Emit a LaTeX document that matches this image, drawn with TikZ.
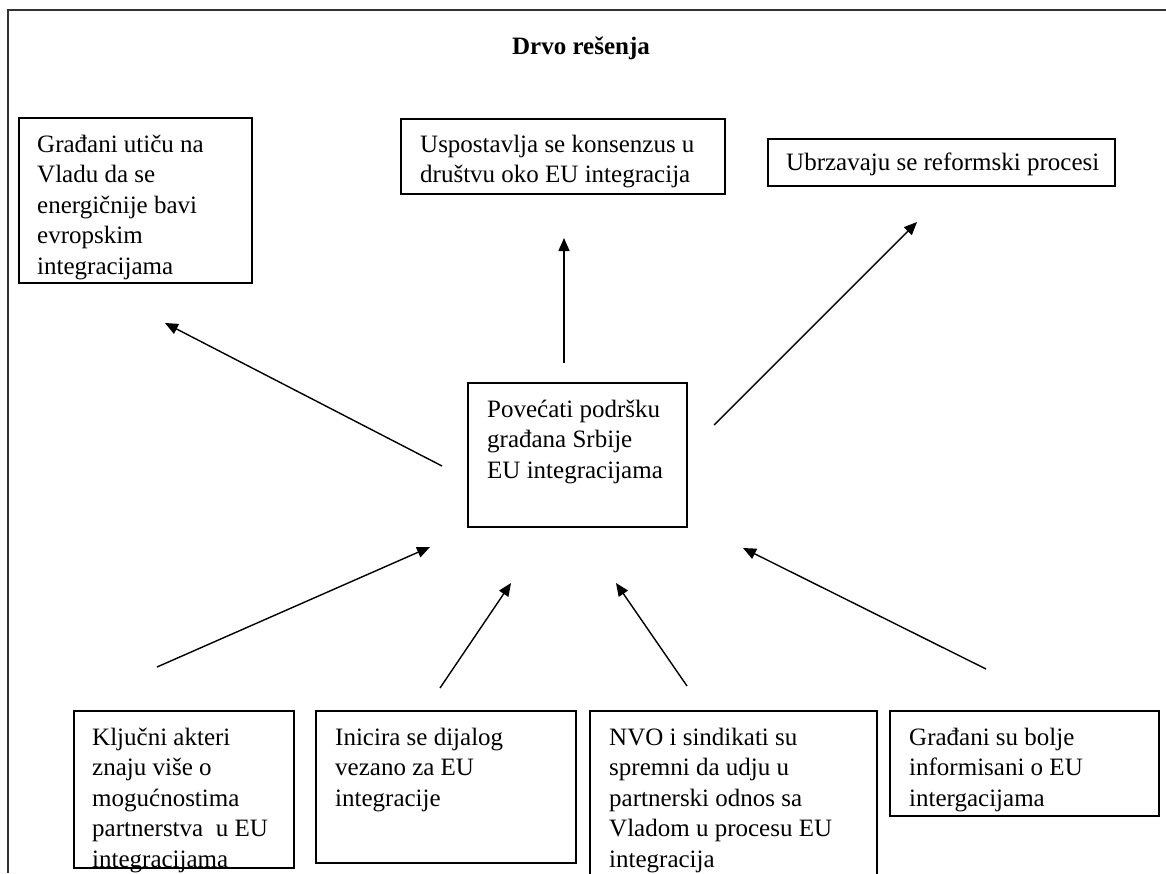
\documentclass[tikz,border=0pt]{standalone}
\usepackage{fontspec}
\setmainfont{Liberation Serif}
\usetikzlibrary{arrows.meta,calc}
\newcommand{\bxfont}{\fontsize{25}{30.5}\selectfont}
\begin{document}
\begin{tikzpicture}[x=1pt,y=-1pt,
  box/.style={draw=black, line width=1.5pt, rectangle, inner sep=0pt, outer sep=0pt, anchor=north west},
  txt/.style={inner sep=0pt, anchor=base west},
  arr/.style={line width=1.4pt, -{Triangle[length=13pt,width=11pt]}},
  frameline/.style={draw=black!80, line width=1.5pt}]
\useasboundingbox (0,0) rectangle (1166,873);
\fill[white] (0,0) rectangle (1166,873);
% outer frame
\draw[frameline] (8,873) -- (8,10) -- (1166,10);
% title
\node[font=\bfseries\bxfont] (T) at (581,48) {Drvo rešenja};
% top row boxes
\node[box, minimum width=233pt, minimum height=165pt] (A) at (19,118) {};
\node[txt] (At) at ($(A.north west)+(18,34)$) {\parbox[t]{220pt}{\bxfont Građani utiču na\\Vladu da se\\energičnije bavi\\evropskim\\integracijama}};
\node[box, minimum width=324pt, minimum height=75pt] (B) at (401,119) {};
\node[txt] (Bt) at ($(B.north west)+(19,33)$) {\parbox[t]{310pt}{\bxfont Uspostavlja se konsenzus u\\društvu oko EU integracija}};
\node[box, minimum width=347pt, minimum height=47pt] (C) at (768,139) {};
\node[txt] (Ct) at ($(C.north west)+(18,31)$) {\parbox[t]{330pt}{\bxfont Ubrzavaju se reformski procesi}};
% center box
\node[box, minimum width=219pt, minimum height=144pt] (M) at (468,383) {};
\node[txt] (Mt) at ($(M.north west)+(19,34)$) {\parbox[t]{210pt}{\bxfont Povećati podršku\\građana Srbije\\EU integracijama}};
% bottom row boxes
\node[box, minimum width=220pt, minimum height=157pt] (D) at (74,711) {};
\node[txt] (Dt) at ($(D.north west)+(18,34)$) {\parbox[t]{210pt}{\bxfont Ključni akteri\\znaju više o\\mogućnostima\\partnerstva\ \ u EU\\integracijama}};
\node[box, minimum width=260pt, minimum height=152pt] (E) at (316,711) {};
\node[txt] (Et) at ($(E.north west)+(19,34)$) {\parbox[t]{240pt}{\bxfont Inicira se dijalog\\vezano za EU\\integracije}};
\node[box, minimum width=287pt, minimum height=180pt] (F) at (590,711) {};
\node[txt] (Ft) at ($(F.north west)+(19,34)$) {\parbox[t]{260pt}{\bxfont NVO i sindikati su\\spremni da udju u\\partnerski odnos sa\\Vladom u procesu EU\\integracija}};
\node[box, minimum width=269pt, minimum height=105pt] (G) at (890,711) {};
\node[txt] (Gt) at ($(G.north west)+(19,34)$) {\parbox[t]{250pt}{\bxfont Građani su bolje\\informisani o EU\\intergacijama}};
% arrow end points
\coordinate (upS) at (564,363);   \coordinate (upE) at (564,238);
\coordinate (lfS) at (442,466);   \coordinate (lfE) at (165,323);
\coordinate (rtS) at (714,425);   \coordinate (rtE) at (917,222);
\coordinate (dS) at (157,667);    \coordinate (dE) at (430,547);
\coordinate (eS) at (440,688);    \coordinate (eE) at (511,583);
\coordinate (fS) at (687,686);    \coordinate (fE) at (616,583);
\coordinate (gS) at (986,669);    \coordinate (gE) at (743,548);
\draw[arr] (upS) -- (upE);
\draw[arr] (lfS) -- (lfE);
\draw[arr] (rtS) -- (rtE);
\draw[arr] (dS) -- (dE);
\draw[arr] (eS) -- (eE);
\draw[arr] (fS) -- (fE);
\draw[arr] (gS) -- (gE);
\end{tikzpicture}
\end{document}
